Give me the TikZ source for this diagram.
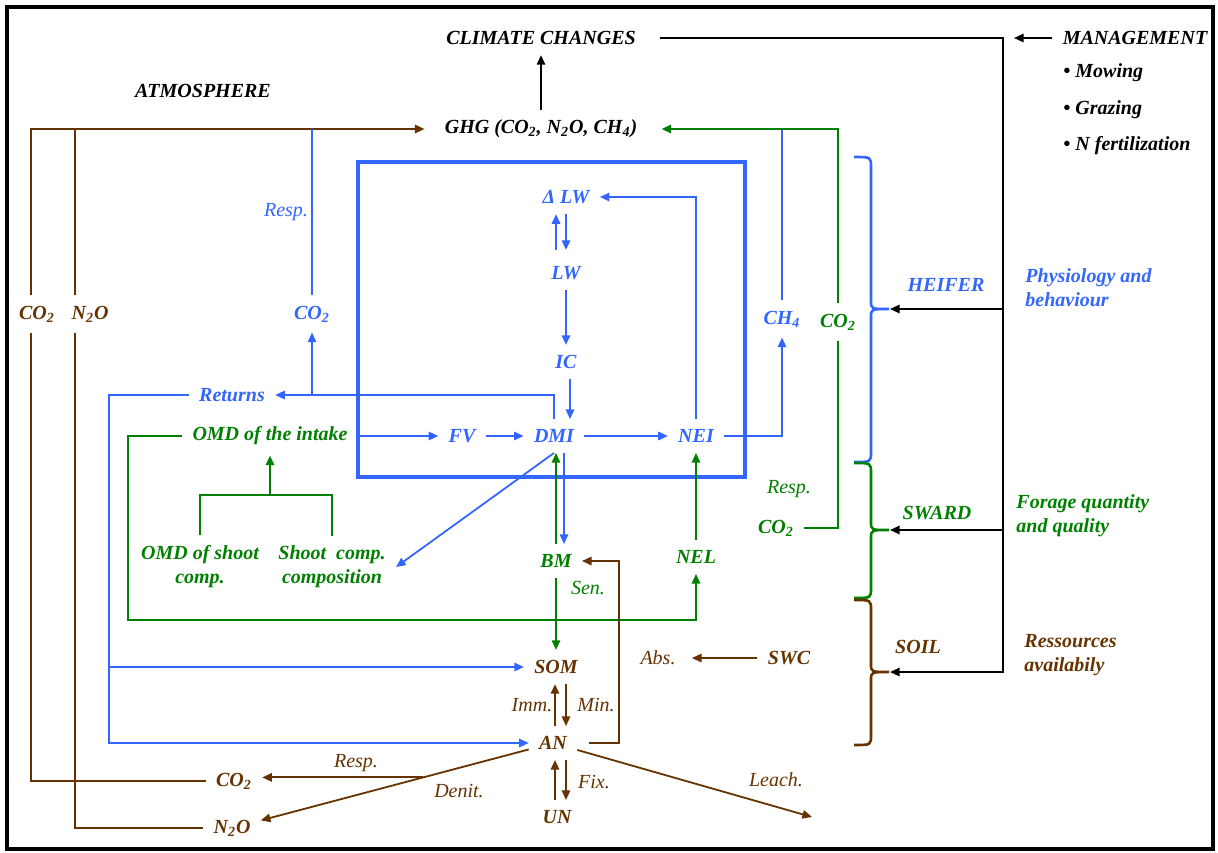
\documentclass[tikz,border=0pt]{standalone}
\usepackage{fontspec}
\setmainfont{Liberation Serif}
\usepackage{tikz}
\usetikzlibrary{arrows.meta}
\usepackage{xcolor}

\definecolor{heifer}{RGB}{51,102,255}
\definecolor{sward}{RGB}{0,128,0}
\definecolor{soil}{RGB}{102,51,0}

\begin{document}
\begin{tikzpicture}[x=0.5pt,y=-0.5pt,
		lab/.style={font=\bfseries\itshape, inner sep=5pt},
		note/.style={font=\itshape, inner sep=2pt},
		arr/.style={-{Triangle[length=4.8pt,width=4.2pt]}},
		bl/.style={draw=heifer, line width=0.9pt},
		gr/.style={draw=sward, line width=0.9pt},
		br/.style={draw=soil, line width=0.9pt},
		bk/.style={draw=black, line width=0.9pt}]
			%\draw[help lines, step=50] (0,0) grid (1218,852);
			\useasboundingbox (0,0) rectangle (1218,852);
			\draw[line width=2.4pt] (7,7) rectangle (1213,849);
			
			\node[lab] (clim) at (541,38) {CLIMATE CHANGES};
			\node[lab] (mgmt) at (1135,38) {MANAGEMENT};
			\node[lab, anchor=west] (mow) at (1053,73) {\textbullet\ Mowing};
			\node[lab, anchor=west] (graz) at (1053,110) {\textbullet\ Grazing};
			\node[lab, anchor=west] (fert) at (1053,146) {\textbullet\ N fertilization};
			\node[lab] (atmo) at (203,91) {ATMOSPHERE};
			\node[lab] (ghg) at (541,129) {GHG (CO\textsubscript{2}, N\textsubscript{2}O, CH\textsubscript{4})};
			
			\node[lab, soil] (co2a) at (37,314) {CO\textsubscript{2}};
			\node[lab, soil] (n2oa) at (90,314) {N\textsubscript{2}O};
			\node[note, heifer] (rsp1) at (286,212) {Resp.};
			\node[lab, heifer] (co2b) at (312,314) {CO\textsubscript{2}};
			
			\node[lab, heifer] (dlw) at (566,197) {Δ LW};
			\node[lab, heifer] (lw) at (566,273) {LW};
			\node[lab, heifer] (ic) at (566,362) {IC};
			\node[lab, heifer] (ret) at (232,395) {Returns};
			\node[lab, sward] (omdi) at (270,436) {OMD of the intake};
			\node[lab, heifer] (fv) at (462,436) {FV};
			\node[lab, heifer] (dmi) at (554,436) {DMI};
			\node[lab, heifer] (nei) at (696,436) {NEI};
			\node[lab, heifer] (ch4) at (782,319) {CH\textsubscript{4}};
			\node[lab, sward] (co2c) at (838,322) {CO\textsubscript{2}};
			\node[note, sward] (rsp2) at (789,489) {Resp.};
			\node[lab, sward] (co2d) at (776,528) {CO\textsubscript{2}};
			
			\node[lab, sward, align=center] (omds) at (200,567) {OMD of shoot\\comp.};
			\node[lab, sward, align=center] (shoot) at (332,567) {Shoot\ \ comp.\\composition};
			\node[lab, sward] (bm) at (556,561) {BM};
			\node[lab, sward] (nel) at (696,557) {NEL};
			\node[note, sward] (sen) at (588,588) {Sen.};
			
			\node[lab, soil] (som) at (556,667) {SOM};
			\node[note, soil] (abs) at (658,658) {Abs.};
			\node[lab, soil] (swc) at (789,658) {SWC};
			\node[note, soil] (imm) at (532,705) {Imm.};
			\node[note, soil] (min) at (596,705) {Min.};
			\node[lab, soil] (an) at (553,743) {AN};
			\node[note, soil] (fix) at (594,782) {Fix.};
			\node[lab, soil] (un) at (557,817) {UN};
			\node[note, soil] (lea) at (776,780) {Leach.};
			\node[lab, soil] (co2e) at (234,781) {CO\textsubscript{2}};
			\node[lab, soil] (n2ob) at (232,828) {N\textsubscript{2}O};
			\node[note, soil] (rsp3) at (356,763) {Resp.};
			\node[note, soil] (den) at (459,791) {Denit.};
			
			\node[lab, heifer] (heif) at (946,285) {HEIFER};
			\node[lab, heifer, anchor=west, align=left] (phys) at (1015,288) {Physiology and\\behaviour};
			\node[lab, sward] (swrd) at (937,513) {SWARD};
			\node[lab, sward, anchor=west, align=left] (forg) at (1006,516) {Forage quantity\\and quality};
			\node[lab, soil] (soi) at (918,647) {SOIL};
			\node[lab, soil, anchor=west, align=left] (ress) at (1014,655) {Ressources\\availabily};
			
			\coordinate (ca) at (31,129);
			\coordinate (na) at (75,129);
			\coordinate (rv) at (109,395);
			\coordinate (omdk) at (270,495);
			\coordinate (gk) at (128,620);
			\coordinate (lch) at (812,817);
			\coordinate (mv) at (1003,38);
			\coordinate (mt) at (1014,38);
			\coordinate (hb) at (890,309);
			\coordinate (sb) at (890,530);
			\coordinate (ob) at (890,672);
			
			% atmosphere
			\draw[br] (co2e.west) -| (ca |- co2a.south);
			\draw[br, arr, shorten >=5pt] (ca |- co2a.north) -- (ca) -- (ghg.west);
			\draw[br] (n2ob.west) -| (na |- n2oa.south);
			\draw[br] (na |- n2oa.north) -- (na);
			\draw[bl] (co2b.north) -- (co2b.north |- ghg.west);
			\draw[bl] (ch4.north) -- (ch4.north |- ghg.east);
			\draw[gr, arr, shorten >=7pt] (co2c.north) |- (ghg.east);
			\draw[gr] (co2d.east) -| (co2c.south);
			\draw[bk, arr] (ghg) -- (clim);
			
			% heifer
			\draw[heifer, line width=1.6pt] (358,162) rectangle (745,477);
			\draw[bl, arr, shorten <=3pt] ([xshift=-5pt]lw.north) -- ([xshift=-5pt]lw.north |- dlw.south);
			\draw[bl, arr, shorten >=3pt] (dlw.south -| lw.north) -- (lw.north);
			\draw[bl, arr] (lw) -- (ic);
			\draw[bl, arr] ([xshift=2pt]ic.south) -- ([xshift=2pt]ic.south |- dmi.north);
			\draw[bl, arr] (dmi.north) |- (ret.east);
			\draw[bl, arr] (co2b.south |- ret.east) -- (co2b.south);
			\draw[bl, arr] (ret.west) -- (rv) |- (an.west);
			\draw[bl, arr] (rv |- som.west) -- (som.west);
			\draw[bl, arr] (omdi) -- (fv);
			\draw[bl, arr] (fv) -- (dmi);
			\draw[bl, arr] (dmi) -- (nei);
			\draw[bl, arr] (nei.north) |- (dlw.east);
			\draw[bl, arr] (nei.east) -| (ch4.south);
			\draw[bl, arr] (dmi.south) -- (shoot.east);
			\draw[bl, arr] ([xshift=5pt]dmi.south) -- ([xshift=5pt]dmi.south |- bm.north);
			
			% sward
			\draw[gr, arr] (bm.north) -- (bm.north |- dmi.south);
			\draw[gr] (omds.north) |- (omdk) -| (shoot.north);
			\draw[gr, arr] (omdk) -- (omdi.south);
			\draw[gr, arr] (omdi.west) -| (gk) -| (nel.south);
			\draw[gr, arr] (nel) -- (nei);
			\draw[gr, arr] (bm) -- (som);
			
			% soil
			\draw[br, arr, shorten <=6pt] (an.east) -- ++(42,0) |- (bm.east);
			\draw[br, arr, shorten >=6pt] (swc) -- (abs);
			\draw[br, arr] ([xshift=-0.5pt]som.south |- an.north) -- ([xshift=-0.5pt]som.south);
			\draw[br, arr] ([xshift=5pt]som.south) -- ([xshift=5pt]som.south |- an.north);
			\draw[br, arr] ([xshift=-1pt]un.north) -- ([xshift=-1pt]un.north |- an.south);
			\draw[br, arr] ([xshift=4.5pt]un.north |- an.south) -- ([xshift=4.5pt]un.north);
			\draw[br, arr] (an) -- coordinate[pos=0.394] (dn) (n2ob);
			\draw[br, arr] (dn) -- (dn -| co2e.east);
			\draw[br, arr] (an) -- (lch);
			
			% management
			\foreach \cc/\ya/\ym/\yb in {heifer/157/309/462, sward/463/530/598, soil/600/672/745}
				\draw[\cc, line width=1.3pt] (854,\ya) .. controls (871,\ya) .. (871,\ya+10)
					-- (871,\ym-8) .. controls (871,\ym) .. (889,\ym)
					.. controls (871,\ym) .. (871,\ym+8)
					-- (871,\yb-10) .. controls (871,\yb) .. (854,\yb);
			\draw[bk, arr, shorten <=7pt] (clim.east) -- (mv) |- (ob);
			\draw[bk, arr] (mv |- hb) -- (hb);
			\draw[bk, arr] (mv |- sb) -- (sb);
			\draw[bk, arr] (mgmt.west) -- (mt);
\end{tikzpicture}
\end{document}
